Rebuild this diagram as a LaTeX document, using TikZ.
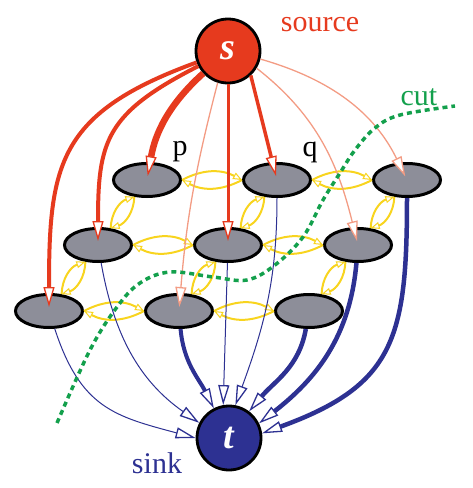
\documentclass[tikz,border=0pt]{standalone}
\usepackage{fontspec}
\setmainfont{Liberation Serif}
\usetikzlibrary{arrows.meta,shapes.geometric}
\definecolor{srcred}{HTML}{E63A1E}
\definecolor{srcpale}{HTML}{F39C84}
\definecolor{sinkblue}{HTML}{2D3192}
\definecolor{pixgray}{HTML}{8D8E99}
\definecolor{linkgold}{HTML}{F8D41E}
\definecolor{cutgreen}{HTML}{13A04C}
\begin{document}
\begin{tikzpicture}[x=1pt, y=-1pt, %
  terminal/.style={circle, draw=black, line width=2.8, minimum size=64, inner sep=0, %
                   text=white, font=\fontsize{38}{38}\selectfont\bfseries\itshape}, %
  pixel/.style={ellipse, draw=black, fill=pixgray, line width=3, %
                minimum width=67, minimum height=33}, %
  tagtext/.style={font=\fontsize{30}{30}\selectfont, inner sep=0}, %
  tlink/.style={-{Triangle[open, fill=white, length=20pt, width=11pt, line width=1.3pt]}}, %
  srclink/.style={tlink, srcred, shorten >=4pt}, %
  sinklink/.style={tlink, sinkblue}, %
  nlink/.style={linkgold, line width=2, %
                -{Triangle[open, fill=white, length=9pt, width=7pt, line width=1pt]}}]
  \useasboundingbox (0,0) rectangle (472,488);
%
  \node[terminal, fill=srcred] at (228,51) (Source) {s};
  \node[terminal, fill=sinkblue, below of=Source, node distance=387, xshift=1] (Sink) {t};
%
  \node[pixel, below of=Source, node distance=129, xshift=-81] (Pixel11) {};
  \node[pixel, below of=Source, node distance=129, xshift=49] (Pixel12) {};
  \node[pixel, below of=Source, node distance=129, xshift=179] (Pixel13) {};
  \node[pixel, below of=Source, node distance=194, xshift=-130] (Pixel21) {};
  \node[pixel, below of=Source, node distance=194, xshift=0] (Pixel22) {};
  \node[pixel, below of=Source, node distance=194, xshift=130] (Pixel23) {};
  \node[pixel, below of=Source, node distance=260, xshift=-179] (Pixel31) {};
  \node[pixel, below of=Source, node distance=260, xshift=-49] (Pixel32) {};
  \node[pixel, below of=Source, node distance=260, xshift=81] (Pixel33) {};
%
  \node[tagtext, text=srcred, right of=Source, node distance=92, yshift=26] (SourceLabel) {source};
  \node[tagtext, text=sinkblue, left of=Sink, node distance=72, yshift=-25] (SinkLabel) {sink};
  \node[tagtext, text=cutgreen, right of=Source, node distance=191, yshift=-46] (CutLabel) {cut};
  \node[tagtext, right of=Pixel11, node distance=33, yshift=28] (LabelP) {p};
  \node[tagtext, right of=Pixel12, node distance=33, yshift=28] (LabelQ) {q};
%
  \draw [nlink] (Pixel11.east) to[bend left=28] (Pixel12.west);
  \draw [nlink] (Pixel12.west) to[bend left=28] (Pixel11.east);
  \draw [nlink] (Pixel12.east) to[bend left=28] (Pixel13.west);
  \draw [nlink] (Pixel13.west) to[bend left=28] (Pixel12.east);
  \draw [nlink] (Pixel21.east) to[bend left=28] (Pixel22.west);
  \draw [nlink] (Pixel22.west) to[bend left=28] (Pixel21.east);
  \draw [nlink] (Pixel22.east) to[bend left=28] (Pixel23.west);
  \draw [nlink] (Pixel23.west) to[bend left=28] (Pixel22.east);
  \draw [nlink] (Pixel31.east) to[bend left=28] (Pixel32.west);
  \draw [nlink] (Pixel32.west) to[bend left=28] (Pixel31.east);
  \draw [nlink] (Pixel32.east) to[bend left=28] (Pixel33.west);
  \draw [nlink] (Pixel33.west) to[bend left=28] (Pixel32.east);
  \draw [nlink] (Pixel11.233) to[bend left=35] (Pixel21.53);
  \draw [nlink] (Pixel21.53) to[bend left=35] (Pixel11.233);
  \draw [nlink] (Pixel12.233) to[bend left=35] (Pixel22.53);
  \draw [nlink] (Pixel22.53) to[bend left=35] (Pixel12.233);
  \draw [nlink] (Pixel13.233) to[bend left=35] (Pixel23.53);
  \draw [nlink] (Pixel23.53) to[bend left=35] (Pixel13.233);
  \draw [nlink] (Pixel21.233) to[bend left=35] (Pixel31.53);
  \draw [nlink] (Pixel31.53) to[bend left=35] (Pixel21.233);
  \draw [nlink] (Pixel22.233) to[bend left=35] (Pixel32.53);
  \draw [nlink] (Pixel32.53) to[bend left=35] (Pixel22.233);
  \draw [nlink] (Pixel23.233) to[bend left=35] (Pixel33.53);
  \draw [nlink] (Pixel33.53) to[bend left=35] (Pixel23.233);
%
  \draw [sinklink, line width=1] (Pixel31) to[out=-72, in=165, looseness=1.2] (Sink.west);
  \draw [sinklink, line width=1] (Pixel21) to[out=-80, in=145] (Sink.153);
  \draw [sinklink, line width=4] (Pixel32) to[out=-85, in=117] (Sink);
  \draw [sinklink, line width=1] (Pixel22) -- (Sink.100);
  \draw [sinklink, line width=1] (Pixel12) to[out=-90, in=70] (Sink.79);
  \draw [sinklink, line width=4.5] (Pixel33) to[out=-100, in=50] (Sink.53);
  \draw [sinklink, line width=4.5] (Pixel23) to[out=-95, in=38] (Sink.26);
  \draw [sinklink, line width=4.5] (Pixel13) to[out=-90, in=20, looseness=1.3] (Sink.8);
%
  \draw [srclink, line width=4] (Source) to[out=200, in=90, looseness=1.3] (Pixel31.center);
  \draw [srclink, line width=4] (Source) to[out=207, in=90, looseness=1.3] (Pixel21.center);
  \draw [srclink, line width=6.5] (Source) to[out=222, in=80] (Pixel11.center);
  \draw [srclink, srcpale, line width=1.3] (Source.252) to[bend right=5] (Pixel32.center);
  \draw [srclink, line width=3] (Source) -- (Pixel22.center);
  \draw [srclink, line width=3.5] (Source.-47) -- (Pixel12.center);
  \draw [srclink, srcpale, line width=1.3] (Source.-31) to[out=-38, in=104] (Pixel23.center);
  \draw [srclink, srcpale, line width=1.3] (Source.-14) to[out=-16, in=116] (Pixel13.center);
%
  \draw [cutgreen, line width=3.5, dash pattern=on 5pt off 4pt] plot[smooth, tension=0.6] %
    coordinates {(57,423) (90,350) (117,307) (140,283) (170,272) (213,277) (247,280) %
                 (275,265) (303,237) (323,200) (340,173) (355,150) (375,128) (400,115) (455,106)};
\end{tikzpicture}
\end{document}
